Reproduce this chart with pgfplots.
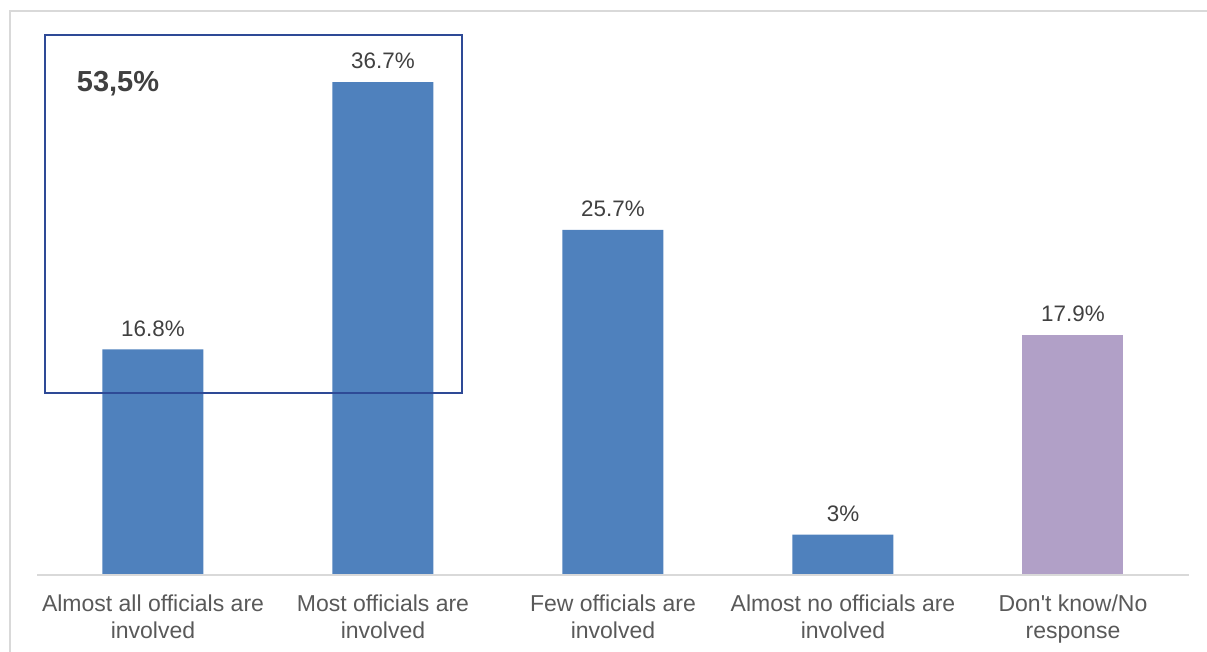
\documentclass[border=0pt]{standalone}
\usepackage{pgfplots}
\pgfplotsset{compat=1.18}
\usepackage{fontspec}
\setmainfont{Liberation Sans}[Ligatures=TeXOff]
\definecolor{barblue}{HTML}{4F81BD}
\definecolor{barpurple}{HTML}{B1A0C7}
\definecolor{axgrey}{HTML}{D9D9D9}
\definecolor{txtgrey}{HTML}{595959}
\definecolor{valgrey}{HTML}{404040}
\definecolor{boxblue}{HTML}{2E4A96}
\begin{document}
\begin{tikzpicture}
\useasboundingbox (0pt,0pt) rectangle (603.5pt,326pt);
% outer frame
\draw[axgrey, line width=1pt] (5pt,0pt) -- (5pt,320.5pt) -- (603.5pt,320.5pt);
\begin{axis}[
  at={(19pt,38.5pt)}, anchor=south west,
  scale only axis,
  width=575pt, height=268.65pt,
  xmin=-0.5, xmax=4.5, ymin=0, ymax=40,
  clip=false,
  axis line style={draw=none},
  axis x line*=bottom,
  hide y axis,
  ytick=\empty,
  xtick={0,1,2,3,4},
  major tick length=0pt,
  xticklabels={{Almost all officials are\\involved},{Most officials are\\involved},{Few officials are\\involved},{Almost no officials are\\involved},{Don't know/No\\response}},
  xticklabel style={align=center, font=\fontsize{11.5}{13.2}\selectfont, text=txtgrey, yshift=-6.5pt},
  ybar, bar width=50.5pt,
  nodes near coords,
  point meta=explicit symbolic,
  every node near coord/.append style={font=\fontsize{11.2}{13}\selectfont, text=valgrey, anchor=south, yshift=3pt},
]
\addplot[draw=none, fill=barblue, bar shift=0pt] coordinates {(0,16.8) [16.8\%] (1,36.7) [36.7\%] (2,25.7) [25.7\%] (3,3) [3\%]};
\addplot[draw=none, fill=barpurple, bar shift=0pt] coordinates {(4,17.9) [17.9\%]};
\draw[axgrey, line width=1pt] (axis cs:-0.504,0) -- (axis cs:4.504,0);
\draw[boxblue, line width=1pt] (axis cs:-0.4696,13.55) rectangle (axis cs:1.343,40.2);
\node[font=\fontsize{14.5}{17}\selectfont\bfseries, text=valgrey] at (axis cs:-0.152,36.55) {53,5\%};
\end{axis}
\end{tikzpicture}
\end{document}
